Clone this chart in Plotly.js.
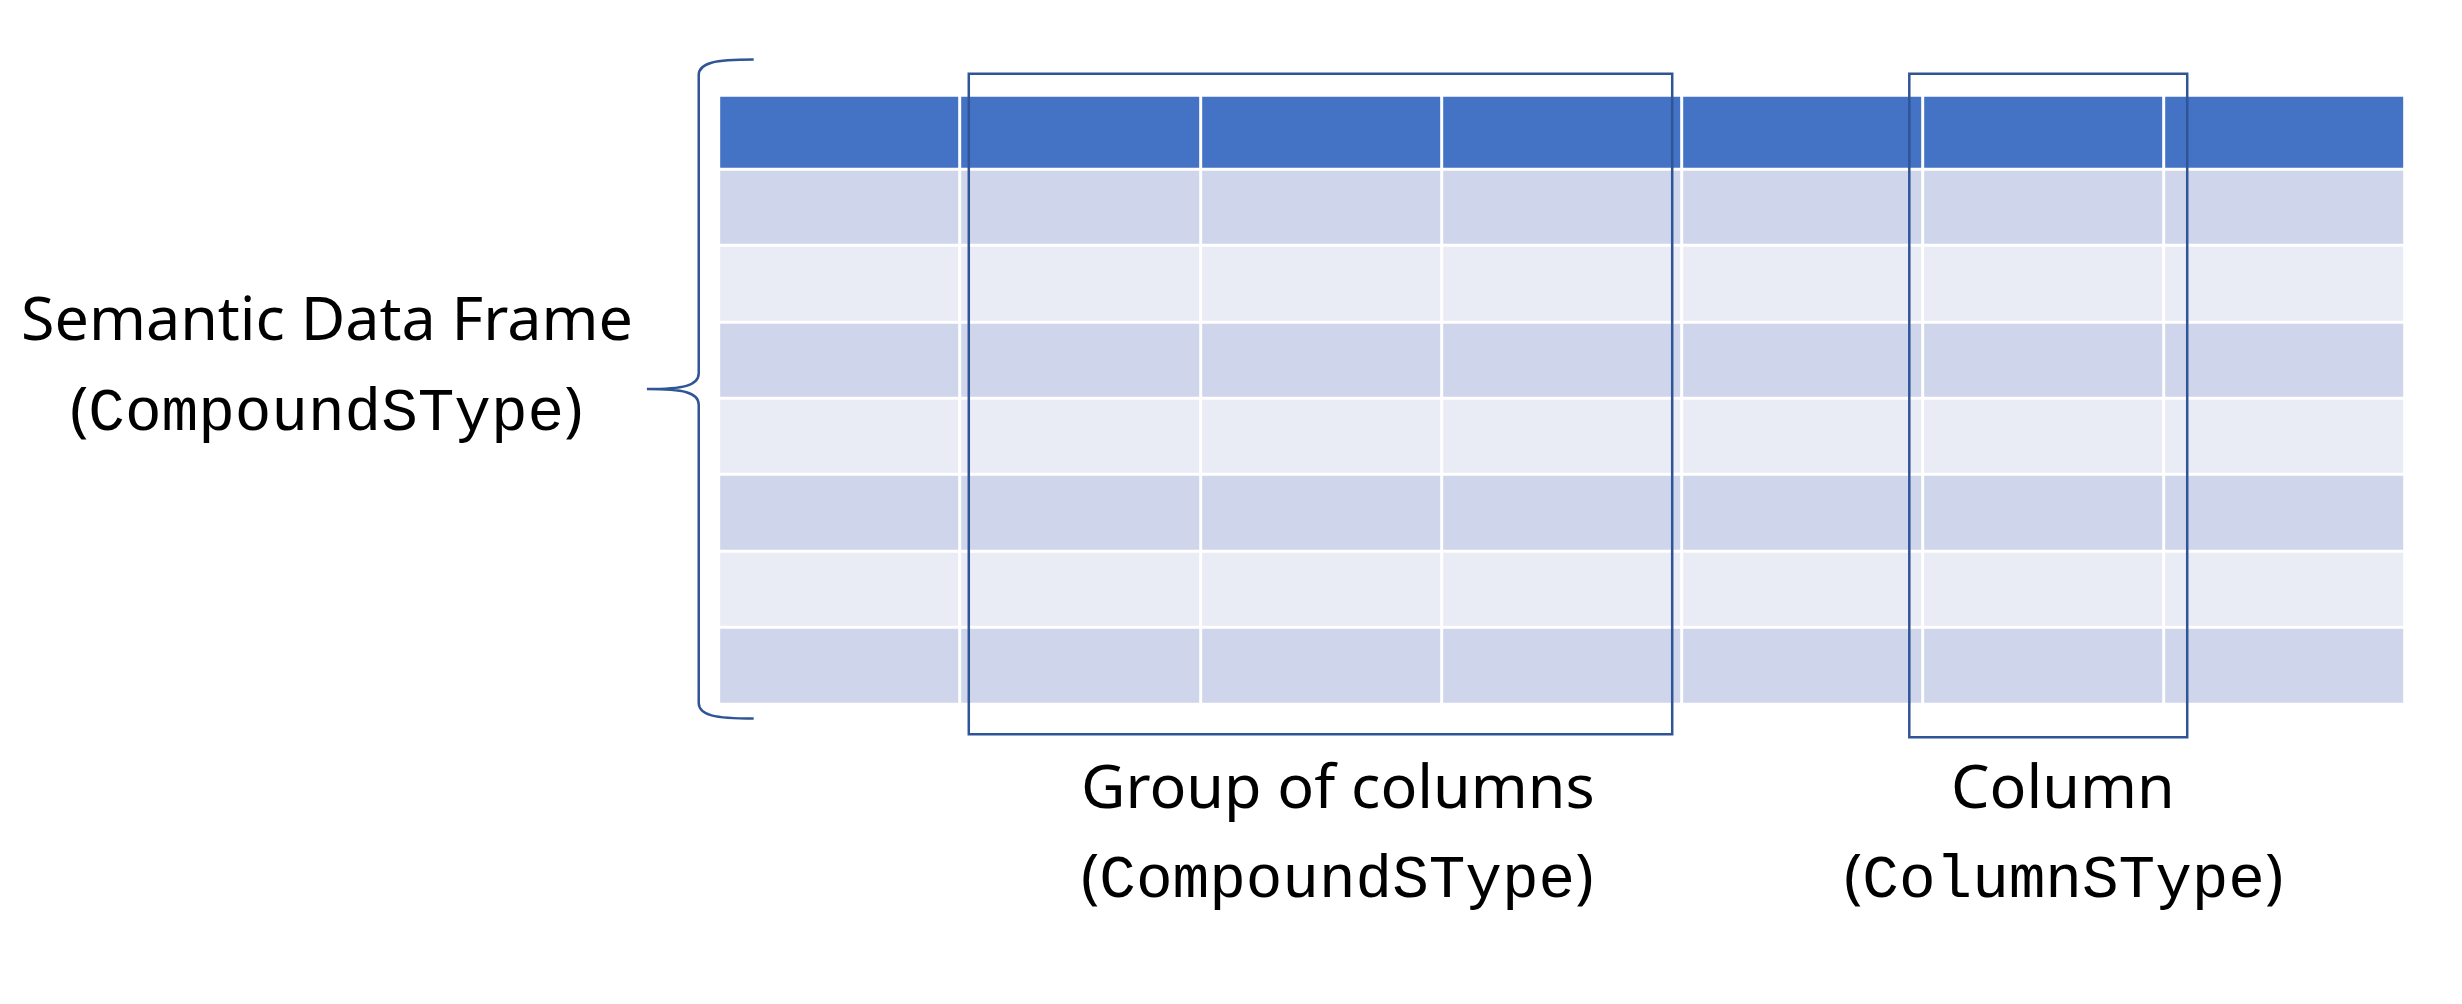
<!DOCTYPE html><html><head><script src="https://cdn.plot.ly/plotly-3.0.1.min.js"></script>
<style>body{margin:0}</style></head><body><div id="c" style="width:2462px;height:1004px"></div><script>
const columns=['c1','c2','c3','c4','c5','c6','c7'];
const rows=['header','r1','r2','r3','r4','r5','r6','r7','r8'];
const rowKind=[2,1,0,1,0,1,0,1]; // header, then alternating bands
const labels={frame:'Semantic Data Frame',group:'Group of columns',column:'Column',compound:'CompoundSType',colType:'ColumnSType'};
// geometry (layout only)
const X0=458,CW=153.4,Y0=61,HH=47,RH=48.7;
const xe=columns.map((c,i)=>X0+i*CW).concat([X0+columns.length*CW]);
const ye=[Y0,Y0+HH];for(let i=1;i<=7;i++)ye.push(Y0+HH+i*RH);
const z=rowKind.map(k=>columns.map(()=>k));
const trace={type:'heatmap',x:xe,y:ye,z:z,xgap:3,ygap:3,showscale:false,hoverinfo:'skip',zmin:0,zmax:2,
 colorscale:[[0,'#E9EBF5'],[0.5,'#CFD5EA'],[1,'#4472C4']]};
const lc='#2F5597';
const sans='Noto Sans, sans-serif',mono='Liberation Mono, monospace';
function two(x,y,a,b){return [
 {x:x,y:y,text:a,font:{family:sans,size:61,color:'#000'}},
 {x:x,y:y+57,text:'('+'<span style="font-family:Liberation Mono">'+b+'</span>'+')',font:{family:sans,size:61,color:'#000'}}];}
const ann=[].concat(two(208,202,labels.frame,labels.compound),two(852,500,labels.group,labels.compound),two(1314,500,labels.column,labels.colType))
 .map(a=>Object.assign(a,{xref:'x',yref:'y',showarrow:false,xanchor:'center',yanchor:'middle'}));
const shapes=[
 {type:'rect',x0:617,x1:1065,y0:47,y1:468,line:{color:lc,width:2.5}},
 {type:'rect',x0:1216,x1:1393,y0:47,y1:470,line:{color:lc,width:2.5}},
 {type:'path',path:'M480,38 C455,38 445,40 445,48 L445,238 C445,246 435,248 412,248 C435,248 445,250 445,258 L445,448 C445,456 455,458 480,458',line:{color:lc,width:2.5}}
];
Plotly.newPlot('c',[trace],{width:2462,height:1004,margin:{l:0,r:0,t:0,b:0},paper_bgcolor:'#fff',plot_bgcolor:'#fff',
 xaxis:{range:[0,1568],visible:false,fixedrange:true},yaxis:{range:[640,0],visible:false,fixedrange:true},
 annotations:ann,shapes:shapes},{staticPlot:true});
</script></body></html>
